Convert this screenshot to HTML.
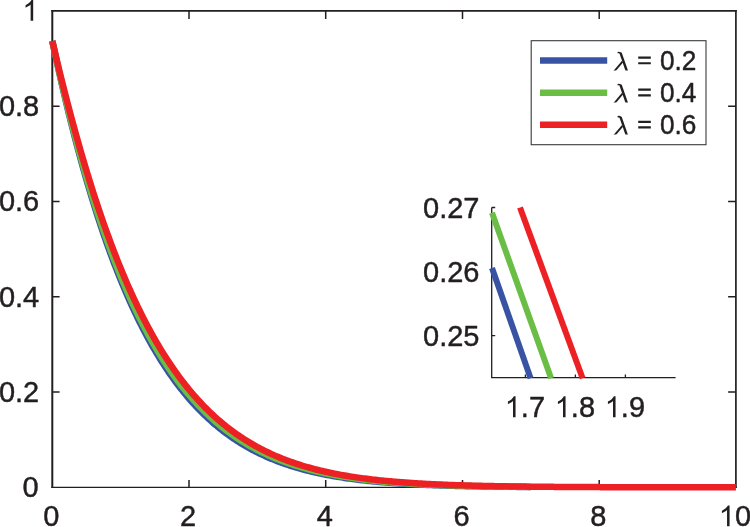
<!DOCTYPE html>
<html><head><meta charset="utf-8"><title>chart</title>
<style>
html,body{margin:0;padding:0;background:#fff;}
#c{position:relative;width:750px;height:527px;overflow:hidden;background:#fff;}
svg{position:absolute;left:0;top:0;font-family:"Liberation Sans",sans-serif;}
</style></head><body>
<div id="c">
<svg width="750" height="527" viewBox="0 0 750 527">
<defs><clipPath id="lc"><rect x="600" y="40" width="40" height="30.4"/></clipPath></defs>
<path d="M52.3,10.10V488.05" stroke="#231f20" stroke-width="2.0" fill="none"/>
<path d="M51.30,10.95H736.75" stroke="#231f20" stroke-width="1.7" fill="none"/>
<path d="M735.9,10.10V488.05" stroke="#231f20" stroke-width="1.7" fill="none"/>
<path d="M51.30,487.35H736.75" stroke="#231f20" stroke-width="1.4" fill="none"/>
<path d="M189.0,487.35V479.9M189.0,10.95V19.0M52.3,392.1H59.6M735.9,392.1H728.1M325.7,487.35V479.9M325.7,10.95V19.0M52.3,296.8H59.6M735.9,296.8H728.1M462.5,487.35V479.9M462.5,10.95V19.0M52.3,201.5H59.6M735.9,201.5H728.1M599.2,487.35V479.9M599.2,10.95V19.0M52.3,106.2H59.6M735.9,106.2H728.1" stroke="#231f20" stroke-width="1.5" fill="none"/>
<path d="M52.30,40.96 L54.01,48.99 L55.72,56.89 L57.43,64.67 L59.14,72.33 L60.84,79.88 L62.55,87.31 L64.26,94.62 L65.97,101.82 L67.68,108.91 L69.39,115.88 L71.10,122.75 L72.81,129.51 L74.52,136.16 L76.23,142.70 L77.94,149.15 L79.64,155.48 L81.35,161.72 L83.06,167.86 L84.77,173.89 L86.48,179.83 L88.19,185.67 L89.90,191.42 L91.61,197.07 L93.32,202.63 L95.03,208.09 L96.73,213.47 L98.44,218.76 L100.15,223.95 L101.86,229.06 L103.57,234.09 L105.28,239.03 L106.99,243.88 L108.70,248.66 L110.41,253.35 L112.11,257.96 L113.82,262.49 L115.53,266.95 L117.24,271.33 L118.95,275.63 L120.66,279.85 L122.37,284.01 L124.08,288.09 L125.79,292.10 L127.50,296.03 L129.20,299.90 L130.91,303.70 L132.62,307.43 L134.33,311.10 L136.04,314.70 L137.75,318.23 L139.46,321.70 L141.17,325.11 L142.88,328.46 L144.59,331.74 L146.30,334.97 L148.00,338.13 L149.71,341.24 L151.42,344.29 L153.13,347.29 L154.84,350.22 L156.55,353.11 L158.26,355.94 L159.97,358.72 L161.68,361.44 L163.38,364.11 L165.09,366.74 L166.80,369.31 L168.51,371.84 L170.22,374.31 L171.93,376.74 L173.64,379.12 L175.35,381.46 L177.06,383.75 L178.77,386.00 L180.48,388.20 L182.18,390.36 L183.89,392.48 L185.60,394.56 L187.31,396.60 L189.02,398.59 L190.73,400.55 L192.44,402.47 L194.15,404.35 L195.86,406.19 L197.56,408.00 L199.27,409.77 L200.98,411.50 L202.69,413.20 L204.40,414.87 L206.11,416.50 L207.82,418.09 L209.53,419.66 L211.24,421.19 L212.95,422.70 L214.65,424.17 L216.36,425.61 L218.07,427.02 L219.78,428.40 L221.49,429.76 L223.20,431.08 L224.91,432.38 L226.62,433.65 L228.33,434.89 L230.04,436.11 L231.75,437.30 L233.45,438.47 L235.16,439.61 L236.87,440.73 L238.58,441.83 L240.29,442.90 L242.00,443.94 L243.71,444.97 L245.42,445.97 L247.13,446.95 L248.83,447.91 L250.54,448.85 L252.25,449.77 L253.96,450.67 L255.67,451.55 L257.38,452.41 L259.09,453.25 L260.80,454.08 L262.51,454.88 L264.22,455.67 L265.93,456.44 L267.63,457.19 L269.34,457.92 L271.05,458.64 L272.76,459.35 L274.47,460.03 L276.18,460.70 L277.89,461.36 L279.60,462.00 L281.31,462.63 L283.02,463.24 L284.72,463.84 L286.43,464.43 L288.14,465.00 L289.85,465.56 L291.56,466.10 L293.27,466.64 L294.98,467.16 L296.69,467.67 L298.40,468.16 L300.11,468.65 L301.81,469.12 L303.52,469.58 L305.23,470.04 L306.94,470.48 L308.65,470.91 L310.36,471.33 L312.07,471.74 L313.78,472.14 L315.49,472.53 L317.20,472.92 L318.90,473.29 L320.61,473.65 L322.32,474.01 L324.03,474.36 L325.74,474.69 L327.45,475.02 L329.16,475.35 L330.87,475.66 L332.58,475.97 L334.29,476.27 L335.99,476.56 L337.70,476.84 L339.41,477.12 L341.12,477.39 L342.83,477.66 L344.54,477.92 L346.25,478.17 L347.96,478.41 L349.67,478.65 L351.38,478.89 L353.08,479.11 L354.79,479.33 L356.50,479.55 L358.21,479.76 L359.92,479.97 L361.63,480.17 L363.34,480.36 L365.05,480.55 L366.76,480.74 L368.47,480.92 L370.17,481.09 L371.88,481.27 L373.59,481.43 L375.30,481.60 L377.01,481.75 L378.72,481.91 L380.43,482.06 L382.14,482.21 L383.85,482.35 L385.56,482.49 L387.26,482.62 L388.97,482.76 L390.68,482.88 L392.39,483.01 L394.10,483.13 L395.81,483.25 L397.52,483.37 L399.23,483.48 L400.94,483.59 L402.64,483.69 L404.35,483.80 L406.06,483.90 L407.77,484.00 L409.48,484.09 L411.19,484.19 L412.90,484.28 L414.61,484.36 L416.32,484.45 L418.03,484.53 L419.74,484.62 L421.44,484.69 L423.15,484.77 L424.86,484.85 L426.57,484.92 L428.28,484.99 L429.99,485.06 L431.70,485.12 L433.41,485.19 L435.12,485.25 L436.83,485.31 L438.53,485.37 L440.24,485.43 L441.95,485.49 L443.66,485.54 L445.37,485.60 L447.08,485.65 L448.79,485.70 L450.50,485.75 L452.21,485.80 L453.92,485.84 L455.62,485.89 L457.33,485.93 L459.04,485.97 L460.75,486.02 L462.46,486.06 L464.17,486.09 L465.88,486.13 L467.59,486.17 L469.30,486.21 L471.01,486.24 L472.71,486.27 L474.42,486.31 L476.13,486.34 L477.84,486.37 L479.55,486.40 L481.26,486.43 L482.97,486.46 L484.68,486.48 L486.39,486.51 L488.09,486.54 L489.80,486.56 L491.51,486.59 L493.22,486.61 L494.93,486.63 L496.64,486.66 L498.35,486.68 L500.06,486.70 L501.77,486.72 L503.48,486.74 L505.19,486.76 L506.89,486.78 L508.60,486.79 L510.31,486.81 L512.02,486.83 L513.73,486.84 L515.44,486.86 L517.15,486.88 L518.86,486.89 L520.57,486.91 L522.27,486.92 L523.98,486.93 L525.69,486.95 L527.40,486.96 L529.11,486.97 L530.82,486.98" fill="none" stroke="#3953a4" stroke-width="6.5" stroke-linejoin="round"/>
<path d="M52.30,40.96 L54.01,48.81 L55.72,56.55 L57.43,64.16 L59.14,71.67 L60.84,79.06 L62.55,86.34 L64.26,93.51 L65.97,100.57 L67.68,107.52 L69.39,114.36 L71.10,121.10 L72.81,127.74 L74.52,134.27 L76.23,140.70 L77.94,147.04 L79.64,153.27 L81.35,159.40 L83.06,165.44 L84.77,171.38 L86.48,177.23 L88.19,182.98 L89.90,188.64 L91.61,194.21 L93.32,199.69 L95.03,205.09 L96.73,210.39 L98.44,215.61 L100.15,220.75 L101.86,225.80 L103.57,230.76 L105.28,235.65 L106.99,240.45 L108.70,245.17 L110.41,249.82 L112.11,254.39 L113.82,258.88 L115.53,263.29 L117.24,267.64 L118.95,271.90 L120.66,276.10 L122.37,280.22 L124.08,284.28 L125.79,288.26 L127.50,292.17 L129.20,296.02 L130.91,299.80 L132.62,303.52 L134.33,307.17 L136.04,310.76 L137.75,314.28 L139.46,317.74 L141.17,321.14 L142.88,324.48 L144.59,327.76 L146.30,330.99 L148.00,334.15 L149.71,337.26 L151.42,340.31 L153.13,343.31 L154.84,346.26 L156.55,349.15 L158.26,351.98 L159.97,354.77 L161.68,357.51 L163.38,360.19 L165.09,362.83 L166.80,365.41 L168.51,367.95 L170.22,370.44 L171.93,372.89 L173.64,375.29 L175.35,377.65 L177.06,379.96 L178.77,382.22 L180.48,384.45 L182.18,386.63 L183.89,388.77 L185.60,390.87 L187.31,392.93 L189.02,394.95 L190.73,396.93 L192.44,398.88 L194.15,400.78 L195.86,402.65 L197.56,404.49 L199.27,406.28 L200.98,408.05 L202.69,409.77 L204.40,411.47 L206.11,413.13 L207.82,414.76 L209.53,416.35 L211.24,417.92 L212.95,419.45 L214.65,420.95 L216.36,422.42 L218.07,423.87 L219.78,425.28 L221.49,426.67 L223.20,428.02 L224.91,429.35 L226.62,430.66 L228.33,431.93 L230.04,433.18 L231.75,434.41 L233.45,435.61 L235.16,436.78 L236.87,437.93 L238.58,439.06 L240.29,440.16 L242.00,441.24 L243.71,442.30 L245.42,443.34 L247.13,444.35 L248.83,445.34 L250.54,446.31 L252.25,447.27 L253.96,448.20 L255.67,449.11 L257.38,450.00 L259.09,450.87 L260.80,451.73 L262.51,452.56 L264.22,453.38 L265.93,454.18 L267.63,454.97 L269.34,455.73 L271.05,456.48 L272.76,457.22 L274.47,457.93 L276.18,458.63 L277.89,459.32 L279.60,459.99 L281.31,460.65 L283.02,461.29 L284.72,461.92 L286.43,462.53 L288.14,463.13 L289.85,463.72 L291.56,464.29 L293.27,464.86 L294.98,465.40 L296.69,465.94 L298.40,466.46 L300.11,466.98 L301.81,467.48 L303.52,467.97 L305.23,468.45 L306.94,468.91 L308.65,469.37 L310.36,469.82 L312.07,470.25 L313.78,470.68 L315.49,471.09 L317.20,471.50 L318.90,471.90 L320.61,472.29 L322.32,472.66 L324.03,473.03 L325.74,473.40 L327.45,473.75 L329.16,474.09 L330.87,474.43 L332.58,474.76 L334.29,475.08 L335.99,475.39 L337.70,475.70 L339.41,476.00 L341.12,476.29 L342.83,476.57 L344.54,476.85 L346.25,477.12 L347.96,477.39 L349.67,477.65 L351.38,477.90 L353.08,478.14 L354.79,478.38 L356.50,478.62 L358.21,478.85 L359.92,479.07 L361.63,479.29 L363.34,479.50 L365.05,479.71 L366.76,479.91 L368.47,480.10 L370.17,480.30 L371.88,480.48 L373.59,480.67 L375.30,480.84 L377.01,481.02 L378.72,481.19 L380.43,481.35 L382.14,481.51 L383.85,481.67 L385.56,481.82 L387.26,481.97 L388.97,482.12 L390.68,482.26 L392.39,482.40 L394.10,482.53 L395.81,482.66 L397.52,482.79 L399.23,482.92 L400.94,483.04 L402.64,483.16 L404.35,483.27 L406.06,483.38 L407.77,483.49 L409.48,483.60 L411.19,483.70 L412.90,483.80 L414.61,483.90 L416.32,484.00 L418.03,484.09 L419.74,484.18 L421.44,484.27 L423.15,484.36 L424.86,484.44 L426.57,484.52 L428.28,484.60 L429.99,484.68 L431.70,484.75 L433.41,484.83 L435.12,484.90 L436.83,484.97 L438.53,485.04 L440.24,485.10 L441.95,485.17 L443.66,485.23 L445.37,485.29 L447.08,485.35 L448.79,485.41 L450.50,485.46 L452.21,485.52 L453.92,485.57 L455.62,485.62 L457.33,485.67 L459.04,485.72 L460.75,485.77 L462.46,485.81 L464.17,485.86 L465.88,485.90 L467.59,485.94 L469.30,485.98 L471.01,486.02 L472.71,486.06 L474.42,486.10 L476.13,486.14 L477.84,486.17 L479.55,486.21 L481.26,486.24 L482.97,486.28 L484.68,486.31 L486.39,486.34 L488.09,486.37 L489.80,486.40 L491.51,486.43 L493.22,486.45 L494.93,486.48 L496.64,486.51 L498.35,486.53 L500.06,486.56 L501.77,486.58 L503.48,486.60 L505.19,486.63 L506.89,486.65 L508.60,486.67 L510.31,486.69 L512.02,486.71 L513.73,486.73 L515.44,486.75 L517.15,486.77 L518.86,486.79 L520.57,486.80 L522.27,486.82 L523.98,486.84 L525.69,486.85 L527.40,486.87 L529.11,486.88 L530.82,486.90" fill="none" stroke="#6abd45" stroke-width="6.5" stroke-linejoin="round"/>
<path d="M52.30,40.96 L54.01,48.29 L55.72,55.53 L57.43,62.67 L59.14,69.72 L60.84,76.69 L62.55,83.56 L64.26,90.35 L65.97,97.05 L67.68,103.65 L69.39,110.18 L71.10,116.61 L72.81,122.96 L74.52,129.22 L76.23,135.40 L77.94,141.49 L79.64,147.50 L81.35,153.43 L83.06,159.27 L84.77,165.03 L86.48,170.71 L88.19,176.31 L89.90,181.83 L91.61,187.27 L93.32,192.64 L95.03,197.92 L96.73,203.13 L98.44,208.26 L100.15,213.31 L101.86,218.29 L103.57,223.20 L105.28,228.03 L106.99,232.79 L108.70,237.47 L110.41,242.09 L112.11,246.63 L113.82,251.10 L115.53,255.51 L117.24,259.84 L118.95,264.11 L120.66,268.31 L122.37,272.45 L124.08,276.51 L125.79,280.52 L127.50,284.46 L129.20,288.33 L130.91,292.14 L132.62,295.89 L134.33,299.58 L136.04,303.21 L137.75,306.78 L139.46,310.29 L141.17,313.74 L142.88,317.14 L144.59,320.47 L146.30,323.75 L148.00,326.98 L149.71,330.15 L151.42,333.26 L153.13,336.32 L154.84,339.33 L156.55,342.29 L158.26,345.19 L159.97,348.05 L161.68,350.86 L163.38,353.61 L165.09,356.32 L166.80,358.98 L168.51,361.59 L170.22,364.15 L171.93,366.67 L173.64,369.15 L175.35,371.58 L177.06,373.96 L178.77,376.30 L180.48,378.60 L182.18,380.86 L183.89,383.07 L185.60,385.25 L187.31,387.38 L189.02,389.48 L190.73,391.53 L192.44,393.55 L194.15,395.53 L195.86,397.47 L197.56,399.37 L199.27,401.24 L200.98,403.08 L202.69,404.87 L204.40,406.64 L206.11,408.37 L207.82,410.07 L209.53,411.73 L211.24,413.36 L212.95,414.96 L214.65,416.53 L216.36,418.07 L218.07,419.57 L219.78,421.05 L221.49,422.50 L223.20,423.92 L224.91,425.31 L226.62,426.68 L228.33,428.01 L230.04,429.32 L231.75,430.61 L233.45,431.86 L235.16,433.10 L236.87,434.30 L238.58,435.48 L240.29,436.64 L242.00,437.78 L243.71,438.89 L245.42,439.98 L247.13,441.04 L248.83,442.09 L250.54,443.11 L252.25,444.11 L253.96,445.09 L255.67,446.05 L257.38,446.99 L259.09,447.91 L260.80,448.81 L262.51,449.69 L264.22,450.56 L265.93,451.40 L267.63,452.23 L269.34,453.04 L271.05,453.83 L272.76,454.61 L274.47,455.36 L276.18,456.11 L277.89,456.83 L279.60,457.54 L281.31,458.24 L283.02,458.92 L284.72,459.58 L286.43,460.23 L288.14,460.87 L289.85,461.49 L291.56,462.10 L293.27,462.69 L294.98,463.28 L296.69,463.85 L298.40,464.40 L300.11,464.95 L301.81,465.48 L303.52,466.00 L305.23,466.51 L306.94,467.00 L308.65,467.49 L310.36,467.97 L312.07,468.43 L313.78,468.88 L315.49,469.33 L317.20,469.76 L318.90,470.19 L320.61,470.60 L322.32,471.01 L324.03,471.40 L325.74,471.79 L327.45,472.16 L329.16,472.53 L330.87,472.89 L332.58,473.25 L334.29,473.59 L335.99,473.93 L337.70,474.25 L339.41,474.58 L341.12,474.89 L342.83,475.19 L344.54,475.49 L346.25,475.79 L347.96,476.07 L349.67,476.35 L351.38,476.62 L353.08,476.89 L354.79,477.15 L356.50,477.40 L358.21,477.65 L359.92,477.89 L361.63,478.12 L363.34,478.35 L365.05,478.58 L366.76,478.79 L368.47,479.01 L370.17,479.22 L371.88,479.42 L373.59,479.62 L375.30,479.81 L377.01,480.00 L378.72,480.19 L380.43,480.37 L382.14,480.54 L383.85,480.72 L385.56,480.88 L387.26,481.05 L388.97,481.21 L390.68,481.36 L392.39,481.51 L394.10,481.66 L395.81,481.81 L397.52,481.95 L399.23,482.09 L400.94,482.22 L402.64,482.35 L404.35,482.48 L406.06,482.60 L407.77,482.72 L409.48,482.84 L411.19,482.96 L412.90,483.07 L414.61,483.18 L416.32,483.29 L418.03,483.39 L419.74,483.49 L421.44,483.59 L423.15,483.69 L424.86,483.78 L426.57,483.88 L428.28,483.97 L429.99,484.05 L431.70,484.14 L433.41,484.22 L435.12,484.30 L436.83,484.38 L438.53,484.46 L440.24,484.53 L441.95,484.61 L443.66,484.68 L445.37,484.75 L447.08,484.82 L448.79,484.88 L450.50,484.95 L452.21,485.01 L453.92,485.07 L455.62,485.13 L457.33,485.19 L459.04,485.24 L460.75,485.30 L462.46,485.35 L464.17,485.41 L465.88,485.46 L467.59,485.51 L469.30,485.56 L471.01,485.60 L472.71,485.65 L474.42,485.69 L476.13,485.74 L477.84,485.78 L479.55,485.82 L481.26,485.86 L482.97,485.90 L484.68,485.94 L486.39,485.98 L488.09,486.01 L489.80,486.05 L491.51,486.08 L493.22,486.12 L494.93,486.15 L496.64,486.18 L498.35,486.21 L500.06,486.24 L501.77,486.27 L503.48,486.30 L505.19,486.33 L506.89,486.35 L508.60,486.38 L510.31,486.41 L512.02,486.43 L513.73,486.46 L515.44,486.48 L517.15,486.50 L518.86,486.53 L520.57,486.55 L522.27,486.57 L523.98,486.59 L525.69,486.61 L527.40,486.63 L529.11,486.65 L530.82,486.67 L532.53,486.69 L534.24,486.70 L535.95,486.72 L537.66,486.74 L539.37,486.75 L541.07,486.77 L542.78,486.79 L544.49,486.80 L546.20,486.82 L547.91,486.83 L549.62,486.84 L551.33,486.86 L553.04,486.87 L554.75,486.88 L556.46,486.90 L558.16,486.91 L559.87,486.92 L561.58,486.93 L563.29,486.94 L565.00,486.95 L566.71,486.96 L568.42,486.97 L570.13,486.98 L571.84,486.99 L573.54,487.00 L575.25,487.01 L576.96,487.02 L578.67,487.03 L580.38,487.04 L582.09,487.05 L583.80,487.06 L585.51,487.06 L587.22,487.07 L588.93,487.08 L590.63,487.09 L592.34,487.09 L594.05,487.10 L595.76,487.11 L597.47,487.11 L599.18,487.12 L600.89,487.13 L602.60,487.13 L604.31,487.14 L606.02,487.14 L607.73,487.15 L609.43,487.15 L611.14,487.16 L612.85,487.17 L614.56,487.17 L616.27,487.18 L617.98,487.18 L619.69,487.18 L621.40,487.19 L623.11,487.19 L624.81,487.20 L626.52,487.20 L628.23,487.21 L629.94,487.21 L631.65,487.21 L633.36,487.22 L635.07,487.22 L636.78,487.22 L638.49,487.23 L640.20,487.23 L641.90,487.23 L643.61,487.24 L645.32,487.24 L647.03,487.24 L648.74,487.25 L650.45,487.25 L652.16,487.25 L653.87,487.25 L655.58,487.26 L657.29,487.26 L658.99,487.26 L660.70,487.26 L662.41,487.27 L664.12,487.27 L665.83,487.27 L667.54,487.27 L669.25,487.27 L670.96,487.28 L672.67,487.28 L674.38,487.28 L676.08,487.28 L677.79,487.28 L679.50,487.29 L681.21,487.29 L682.92,487.29 L684.63,487.29 L686.34,487.29 L688.05,487.29 L689.76,487.30 L691.47,487.30 L693.17,487.30 L694.88,487.30 L696.59,487.30 L698.30,487.30 L700.01,487.30 L701.72,487.30 L703.43,487.31 L705.14,487.31 L706.85,487.31 L708.56,487.31 L710.26,487.31 L711.97,487.31 L713.68,487.31 L715.39,487.31 L717.10,487.31 L718.81,487.32 L720.52,487.32 L722.23,487.32 L723.94,487.32 L725.65,487.32 L727.36,487.32 L729.06,487.32 L730.77,487.32 L732.48,487.32 L734.19,487.32 L735.90,487.32" fill="none" stroke="#ed2024" stroke-width="6.5" stroke-linejoin="round"/>
<rect x="531.2" y="40.7" width="174.8" height="104" fill="#fff" stroke="#3a3a3a" stroke-width="1.1"/>
<path d="M540,60.5H607.2" stroke="#3953a4" stroke-width="6.5"/>
<path d="M540,92.8H607.2" stroke="#6abd45" stroke-width="6.5"/>
<path d="M540,124.8H607.2" stroke="#ed2024" stroke-width="6.5"/>
<path d="M491.7,207.5V377.6H675.6" fill="none" stroke="#231f20" stroke-width="1.3"/>
<path d="M491.7,207.5h3.5M491.7,271.5h3.5M491.7,335.6h3.5M525.4,377.6v-3M575.4,377.6v-3M625.4,377.6v-3" fill="none" stroke="#231f20" stroke-width="1.3"/>
<path d="M492,268L530.6,378.3" stroke="#3953a4" stroke-width="6"/>
<path d="M492,212.7L551.1,378.3" stroke="#6abd45" stroke-width="6"/>
<path d="M520,207.5L582.6,378.3" stroke="#ed2024" stroke-width="6"/>

<g fill="#231f20" stroke="#231f20" stroke-width="0.45" stroke-linejoin="round" style="opacity:0.999">
<path d="M763 0H583V1147Q518 1085 412.5 1023Q307 961 223 930V1104Q374 1175 487 1276Q600 1377 647 1472H763Z" transform="translate(22.38,20.80) scale(0.01416,-0.01416)"/>
<text transform="translate(-1.11,116.10) scale(1,1.04)" font-size="29" xml:space="preserve">0.8</text>
<text transform="translate(-1.11,211.30) scale(1,1.04)" font-size="29" xml:space="preserve">0.6</text>
<text transform="translate(-1.11,306.60) scale(1,1.04)" font-size="29" xml:space="preserve">0.4</text>
<text transform="translate(-1.11,401.80) scale(1,1.04)" font-size="29" xml:space="preserve">0.2</text>
<text transform="translate(22.38,497.10) scale(1,1.04)" font-size="29" xml:space="preserve">0</text>
<text transform="translate(43.24,526.30) scale(1,1.04)" font-size="29" xml:space="preserve">0</text>
<text transform="translate(179.94,526.30) scale(1,1.04)" font-size="29" xml:space="preserve">2</text>
<text transform="translate(316.64,526.30) scale(1,1.04)" font-size="29" xml:space="preserve">4</text>
<text transform="translate(453.44,526.30) scale(1,1.04)" font-size="29" xml:space="preserve">6</text>
<text transform="translate(590.14,526.30) scale(1,1.04)" font-size="29" xml:space="preserve">8</text>
<path d="M763 0H583V1147Q518 1085 412.5 1023Q307 961 223 930V1104Q374 1175 487 1276Q600 1377 647 1472H763Z" transform="translate(718.78,526.30) scale(0.01416,-0.01416)"/><text transform="translate(734.90,526.30) scale(1,1.04)" font-size="29" xml:space="preserve">0</text>
<text transform="translate(423.07,217.70) scale(1,1.04)" font-size="29" xml:space="preserve">0.27</text>
<text transform="translate(423.07,281.60) scale(1,1.04)" font-size="29" xml:space="preserve">0.26</text>
<text transform="translate(423.07,345.50) scale(1,1.04)" font-size="29" xml:space="preserve">0.25</text>
<path d="M763 0H583V1147Q518 1085 412.5 1023Q307 961 223 930V1104Q374 1175 487 1276Q600 1377 647 1472H763Z" transform="translate(504.75,417.20) scale(0.01416,-0.01416)"/><text transform="translate(520.87,417.20) scale(1,1.04)" font-size="29" xml:space="preserve">.7</text>
<path d="M763 0H583V1147Q518 1085 412.5 1023Q307 961 223 930V1104Q374 1175 487 1276Q600 1377 647 1472H763Z" transform="translate(554.75,417.20) scale(0.01416,-0.01416)"/><text transform="translate(570.87,417.20) scale(1,1.04)" font-size="29" xml:space="preserve">.8</text>
<path d="M763 0H583V1147Q518 1085 412.5 1023Q307 961 223 930V1104Q374 1175 487 1276Q600 1377 647 1472H763Z" transform="translate(604.75,417.20) scale(0.01416,-0.01416)"/><text transform="translate(620.87,417.20) scale(1,1.04)" font-size="29" xml:space="preserve">.9</text>
<path d="M638.21,56.50h12.60v2.22h-12.60zM638.21,62.14h12.60v2.22h-12.60z" stroke="none"/><text transform="translate(659.98,70.10) scale(1,1.04)" font-size="26.2" xml:space="preserve">0.2</text>
<path d="M638.21,88.60h12.60v2.22h-12.60zM638.21,94.24h12.60v2.22h-12.60z" stroke="none"/><text transform="translate(659.98,102.20) scale(1,1.04)" font-size="26.2" xml:space="preserve">0.4</text>
<path d="M638.21,120.70h12.60v2.22h-12.60zM638.21,126.34h12.60v2.22h-12.60z" stroke="none"/><text transform="translate(659.98,134.30) scale(1,1.04)" font-size="26.2" xml:space="preserve">0.6</text>
</g>
<g fill="none" stroke="#231f20">
<g transform="translate(0,0.0)" clip-path="url(#lc)"><path d="M617.6,52.6C619.4,52.1 620.6,52.5 621.3,54.2" stroke-width="1.5"/><path d="M620.55,52.9L627.2,72" stroke-width="2.4"/><path d="M622.5,61.6L613.7,72" stroke-width="1.9"/></g>
<g transform="translate(0,32.1)" clip-path="url(#lc)"><path d="M617.6,52.6C619.4,52.1 620.6,52.5 621.3,54.2" stroke-width="1.5"/><path d="M620.55,52.9L627.2,72" stroke-width="2.4"/><path d="M622.5,61.6L613.7,72" stroke-width="1.9"/></g>
<g transform="translate(0,64.2)" clip-path="url(#lc)"><path d="M617.6,52.6C619.4,52.1 620.6,52.5 621.3,54.2" stroke-width="1.5"/><path d="M620.55,52.9L627.2,72" stroke-width="2.4"/><path d="M622.5,61.6L613.7,72" stroke-width="1.9"/></g>
</g>
</svg>
</div>
</body></html>
